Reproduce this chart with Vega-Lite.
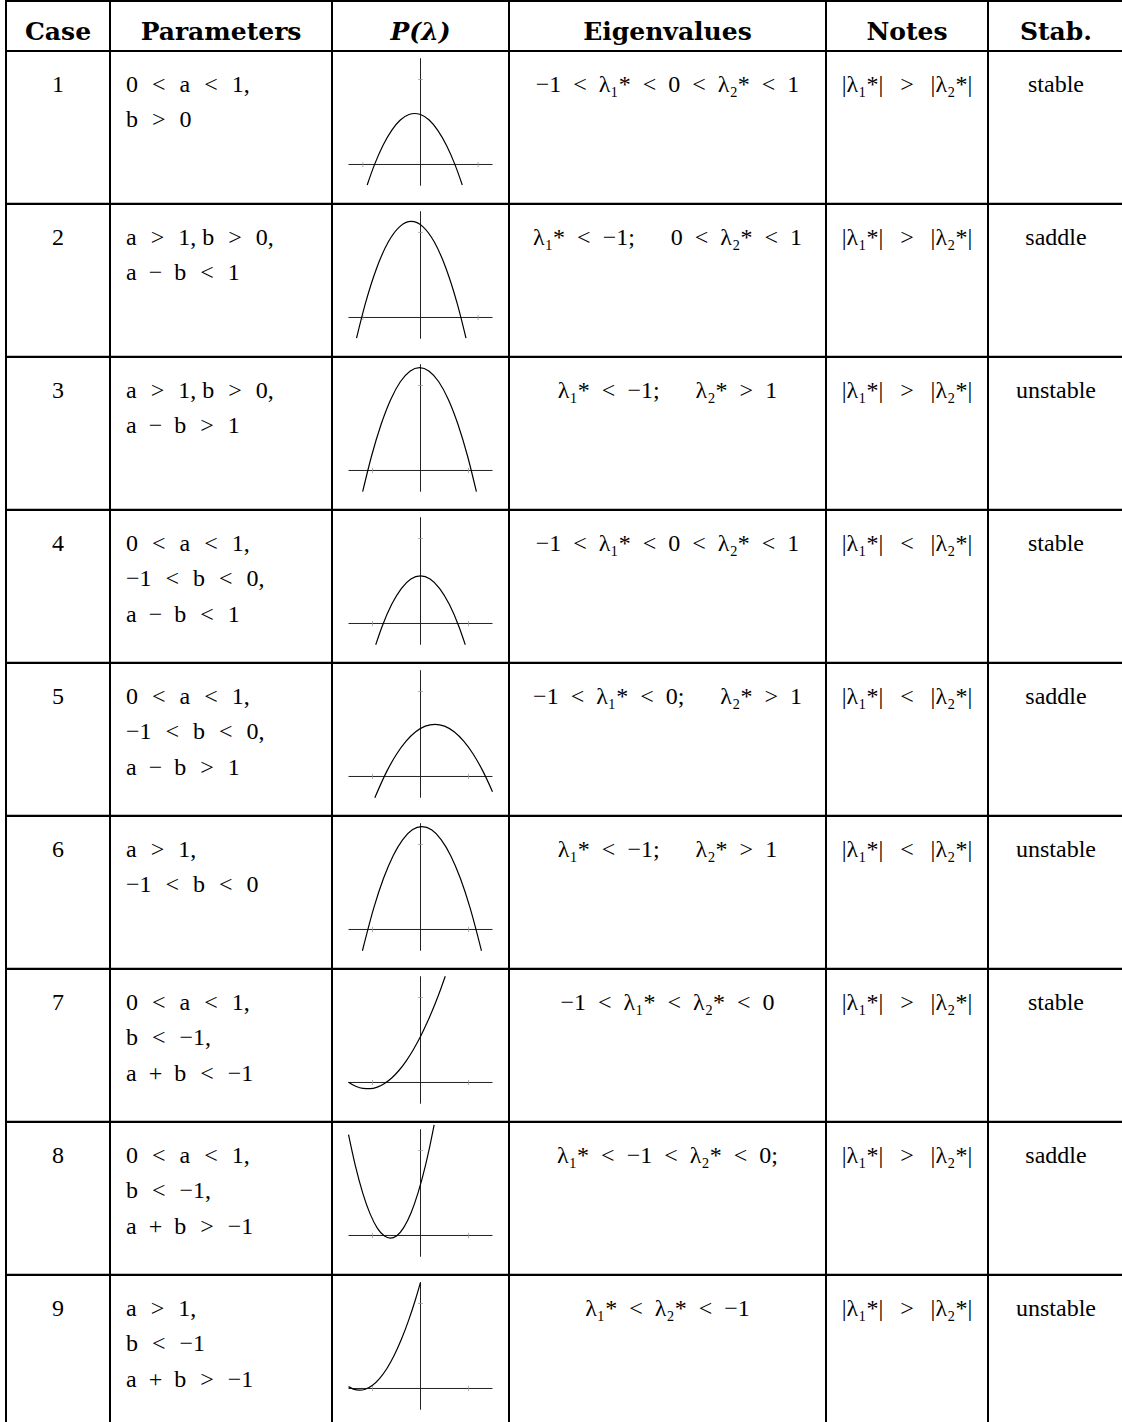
{
  "$schema": "https://vega.github.io/schema/vega-lite/v6.json",
  "background": "white",
  "padding": {"left": 5, "top": 0, "right": 0, "bottom": 0},
  "bounds": "flush",
  "spacing": 0,
  "columns": 6,
  "align": "each",
  "config": {
    "view": {"stroke": "black", "strokeWidth": 2},
    "concat": {"spacing": 0},
    "axis": {"grid": false},
    "text": {"font": "Liberation Serif", "fontSize": 24, "baseline": "alphabetic", "color": "black"}
  },
  "datasets": {
    "cells": [
      {"case": 1, "col": "case", "line": 1, "text": "1"},
      {"case": 2, "col": "case", "line": 1, "text": "2"},
      {"case": 3, "col": "case", "line": 1, "text": "3"},
      {"case": 4, "col": "case", "line": 1, "text": "4"},
      {"case": 5, "col": "case", "line": 1, "text": "5"},
      {"case": 6, "col": "case", "line": 1, "text": "6"},
      {"case": 7, "col": "case", "line": 1, "text": "7"},
      {"case": 8, "col": "case", "line": 1, "text": "8"},
      {"case": 9, "col": "case", "line": 1, "text": "9"},
      {"case": 1, "col": "par", "line": 1, "text": "0\u2004\u2005<\u2004\u2005a\u2004\u2005<\u2004\u20051,"},
      {"case": 1, "col": "par", "line": 2, "text": "b\u2004\u2005>\u2004\u20050"},
      {"case": 2, "col": "par", "line": 1, "text": "a\u2004\u2005>\u2004\u20051, b\u2004\u2005>\u2004\u20050,"},
      {"case": 2, "col": "par", "line": 2, "text": "a\u2002−\u2002b\u2004\u2005<\u2004\u20051"},
      {"case": 3, "col": "par", "line": 1, "text": "a\u2004\u2005>\u2004\u20051, b\u2004\u2005>\u2004\u20050,"},
      {"case": 3, "col": "par", "line": 2, "text": "a\u2002−\u2002b\u2004\u2005>\u2004\u20051"},
      {"case": 4, "col": "par", "line": 1, "text": "0\u2004\u2005<\u2004\u2005a\u2004\u2005<\u2004\u20051,"},
      {"case": 4, "col": "par", "line": 2, "text": "−1\u2004\u2005<\u2004\u2005b\u2004\u2005<\u2004\u20050,"},
      {"case": 4, "col": "par", "line": 3, "text": "a\u2002−\u2002b\u2004\u2005<\u2004\u20051"},
      {"case": 5, "col": "par", "line": 1, "text": "0\u2004\u2005<\u2004\u2005a\u2004\u2005<\u2004\u20051,"},
      {"case": 5, "col": "par", "line": 2, "text": "−1\u2004\u2005<\u2004\u2005b\u2004\u2005<\u2004\u20050,"},
      {"case": 5, "col": "par", "line": 3, "text": "a\u2002−\u2002b\u2004\u2005>\u2004\u20051"},
      {"case": 6, "col": "par", "line": 1, "text": "a\u2004\u2005>\u2004\u20051,"},
      {"case": 6, "col": "par", "line": 2, "text": "−1\u2004\u2005<\u2004\u2005b\u2004\u2005<\u2004\u20050"},
      {"case": 7, "col": "par", "line": 1, "text": "0\u2004\u2005<\u2004\u2005a\u2004\u2005<\u2004\u20051,"},
      {"case": 7, "col": "par", "line": 2, "text": "b\u2004\u2005<\u2004\u2005−1,"},
      {"case": 7, "col": "par", "line": 3, "text": "a\u2002+\u2002b\u2004\u2005<\u2004\u2005−1"},
      {"case": 8, "col": "par", "line": 1, "text": "0\u2004\u2005<\u2004\u2005a\u2004\u2005<\u2004\u20051,"},
      {"case": 8, "col": "par", "line": 2, "text": "b\u2004\u2005<\u2004\u2005−1,"},
      {"case": 8, "col": "par", "line": 3, "text": "a\u2002+\u2002b\u2004\u2005>\u2004\u2005−1"},
      {"case": 9, "col": "par", "line": 1, "text": "a\u2004\u2005>\u2004\u20051,"},
      {"case": 9, "col": "par", "line": 2, "text": "b\u2004\u2005<\u2004\u2005−1"},
      {"case": 9, "col": "par", "line": 3, "text": "a\u2002+\u2002b\u2004\u2005>\u2004\u2005−1"},
      {"case": 1, "col": "eig", "line": 1, "text": "−1\u2002<\u2002λ₁*\u2002<\u20020\u2002<\u2002λ₂*\u2002<\u20021"},
      {"case": 2, "col": "eig", "line": 1, "text": "λ₁*\u2002<\u2002−1;\u2003\u20020\u2002<\u2002λ₂*\u2002<\u20021"},
      {"case": 3, "col": "eig", "line": 1, "text": "λ₁*\u2002<\u2002−1;\u2003\u2002λ₂*\u2002>\u20021"},
      {"case": 4, "col": "eig", "line": 1, "text": "−1\u2002<\u2002λ₁*\u2002<\u20020\u2002<\u2002λ₂*\u2002<\u20021"},
      {"case": 5, "col": "eig", "line": 1, "text": "−1\u2002<\u2002λ₁*\u2002<\u20020;\u2003\u2002λ₂*\u2002>\u20021"},
      {"case": 6, "col": "eig", "line": 1, "text": "λ₁*\u2002<\u2002−1;\u2003\u2002λ₂*\u2002>\u20021"},
      {"case": 7, "col": "eig", "line": 1, "text": "−1\u2002<\u2002λ₁*\u2002<\u2002λ₂*\u2002<\u20020"},
      {"case": 8, "col": "eig", "line": 1, "text": "λ₁*\u2002<\u2002−1\u2002<\u2002λ₂*\u2002<\u20020;"},
      {"case": 9, "col": "eig", "line": 1, "text": "λ₁*\u2002<\u2002λ₂*\u2002<\u2002−1"},
      {"case": 1, "col": "note", "line": 1, "text": "|λ₁*|\u2002\u2009>\u2002\u2009|λ₂*|"},
      {"case": 2, "col": "note", "line": 1, "text": "|λ₁*|\u2002\u2009>\u2002\u2009|λ₂*|"},
      {"case": 3, "col": "note", "line": 1, "text": "|λ₁*|\u2002\u2009>\u2002\u2009|λ₂*|"},
      {"case": 4, "col": "note", "line": 1, "text": "|λ₁*|\u2002\u2009<\u2002\u2009|λ₂*|"},
      {"case": 5, "col": "note", "line": 1, "text": "|λ₁*|\u2002\u2009<\u2002\u2009|λ₂*|"},
      {"case": 6, "col": "note", "line": 1, "text": "|λ₁*|\u2002\u2009<\u2002\u2009|λ₂*|"},
      {"case": 7, "col": "note", "line": 1, "text": "|λ₁*|\u2002\u2009>\u2002\u2009|λ₂*|"},
      {"case": 8, "col": "note", "line": 1, "text": "|λ₁*|\u2002\u2009>\u2002\u2009|λ₂*|"},
      {"case": 9, "col": "note", "line": 1, "text": "|λ₁*|\u2002\u2009>\u2002\u2009|λ₂*|"},
      {"case": 1, "col": "stab", "line": 1, "text": "stable"},
      {"case": 2, "col": "stab", "line": 1, "text": "saddle"},
      {"case": 3, "col": "stab", "line": 1, "text": "unstable"},
      {"case": 4, "col": "stab", "line": 1, "text": "stable"},
      {"case": 5, "col": "stab", "line": 1, "text": "saddle"},
      {"case": 6, "col": "stab", "line": 1, "text": "unstable"},
      {"case": 7, "col": "stab", "line": 1, "text": "stable"},
      {"case": 8, "col": "stab", "line": 1, "text": "saddle"},
      {"case": 9, "col": "stab", "line": 1, "text": "unstable"}
    ],
    "heads": [
      {"col": "case", "line": 1, "h": "Case"},
      {"col": "par", "line": 1, "h": "Parameters"},
      {"col": "p", "line": 1, "h": "P(λ)"},
      {"col": "eig", "line": 1, "h": "Eigenvalues"},
      {"col": "note", "line": 1, "h": "Notes"},
      {"col": "stab", "line": 1, "h": "Stab."}
    ],
    "ticks": [{"t": -1}, {"t": 1}],
    "curves": [
      {"case": 1, "lam": -0.925, "p": -0.241}, {"case": 1, "lam": -0.8, "p": -0.005}, {"case": 1, "lam": -0.65, "p": 0.226}, {"case": 1, "lam": -0.5, "p": 0.402}, {"case": 1, "lam": -0.35, "p": 0.523}, {"case": 1, "lam": -0.2, "p": 0.588}, {"case": 1, "lam": -0.1, "p": 0.6}, {"case": 1, "lam": 0, "p": 0.588}, {"case": 1, "lam": 0.15, "p": 0.523}, {"case": 1, "lam": 0.3, "p": 0.402}, {"case": 1, "lam": 0.45, "p": 0.226}, {"case": 1, "lam": 0.6, "p": -0.005}, {"case": 1, "lam": 0.725, "p": -0.241},
      {"case": 2, "lam": -1.11, "p": -0.242}, {"case": 2, "lam": -0.96, "p": 0.157}, {"case": 2, "lam": -0.76, "p": 0.583}, {"case": 2, "lam": -0.56, "p": 0.887}, {"case": 2, "lam": -0.36, "p": 1.069}, {"case": 2, "lam": -0.16, "p": 1.13}, {"case": 2, "lam": 0.04, "p": 1.069}, {"case": 2, "lam": 0.24, "p": 0.887}, {"case": 2, "lam": 0.44, "p": 0.583}, {"case": 2, "lam": 0.64, "p": 0.157}, {"case": 2, "lam": 0.79, "p": -0.242},
      {"case": 3, "lam": -1.205, "p": -0.25}, {"case": 3, "lam": -1.02, "p": 0.17}, {"case": 3, "lam": -0.82, "p": 0.544}, {"case": 3, "lam": -0.62, "p": 0.836}, {"case": 3, "lam": -0.42, "p": 1.044}, {"case": 3, "lam": -0.22, "p": 1.168}, {"case": 3, "lam": -0.02, "p": 1.21}, {"case": 3, "lam": 0.18, "p": 1.168}, {"case": 3, "lam": 0.38, "p": 1.044}, {"case": 3, "lam": 0.58, "p": 0.836}, {"case": 3, "lam": 0.78, "p": 0.544}, {"case": 3, "lam": 0.98, "p": 0.17}, {"case": 3, "lam": 1.165, "p": -0.25},
      {"case": 4, "lam": -0.933, "p": -0.25}, {"case": 4, "lam": -0.8, "p": -0.035}, {"case": 4, "lam": -0.6, "p": 0.225}, {"case": 4, "lam": -0.4, "p": 0.411}, {"case": 4, "lam": -0.2, "p": 0.523}, {"case": 4, "lam": 0, "p": 0.56}, {"case": 4, "lam": 0.2, "p": 0.523}, {"case": 4, "lam": 0.4, "p": 0.411}, {"case": 4, "lam": 0.6, "p": 0.225}, {"case": 4, "lam": 0.8, "p": -0.035}, {"case": 4, "lam": 0.933, "p": -0.25},
      {"case": 5, "lam": -0.952, "p": -0.25}, {"case": 5, "lam": -0.7, "p": 0.063}, {"case": 5, "lam": -0.5, "p": 0.261}, {"case": 5, "lam": -0.3, "p": 0.416}, {"case": 5, "lam": -0.1, "p": 0.526}, {"case": 5, "lam": 0.1, "p": 0.592}, {"case": 5, "lam": 0.3, "p": 0.614}, {"case": 5, "lam": 0.5, "p": 0.592}, {"case": 5, "lam": 0.7, "p": 0.526}, {"case": 5, "lam": 0.9, "p": 0.416}, {"case": 5, "lam": 1.1, "p": 0.261}, {"case": 5, "lam": 1.3, "p": 0.063}, {"case": 5, "lam": 1.5, "p": -0.179},
      {"case": 6, "lam": -1.21, "p": -0.25}, {"case": 6, "lam": -0.97, "p": 0.26}, {"case": 6, "lam": -0.77, "p": 0.602}, {"case": 6, "lam": -0.57, "p": 0.868}, {"case": 6, "lam": -0.37, "p": 1.058}, {"case": 6, "lam": -0.17, "p": 1.172}, {"case": 6, "lam": 0.03, "p": 1.21}, {"case": 6, "lam": 0.23, "p": 1.172}, {"case": 6, "lam": 0.43, "p": 1.058}, {"case": 6, "lam": 0.63, "p": 0.868}, {"case": 6, "lam": 0.83, "p": 0.602}, {"case": 6, "lam": 1.03, "p": 0.26}, {"case": 6, "lam": 1.27, "p": -0.25},
      {"case": 7, "lam": -1.5, "p": 0.004}, {"case": 7, "lam": -1.35, "p": -0.045}, {"case": 7, "lam": -1.2, "p": -0.07}, {"case": 7, "lam": -1.05, "p": -0.073}, {"case": 7, "lam": -0.9, "p": -0.054}, {"case": 7, "lam": -0.75, "p": -0.011}, {"case": 7, "lam": -0.6, "p": 0.053}, {"case": 7, "lam": -0.45, "p": 0.141}, {"case": 7, "lam": -0.3, "p": 0.252}, {"case": 7, "lam": -0.15, "p": 0.385}, {"case": 7, "lam": 0, "p": 0.54}, {"case": 7, "lam": 0.15, "p": 0.719}, {"case": 7, "lam": 0.3, "p": 0.92}, {"case": 7, "lam": 0.42, "p": 1.097}, {"case": 7, "lam": 0.516, "p": 1.249},
      {"case": 8, "lam": -1.5, "p": 1.186}, {"case": 8, "lam": -1.35, "p": 0.803}, {"case": 8, "lam": -1.2, "p": 0.493}, {"case": 8, "lam": -1.05, "p": 0.254}, {"case": 8, "lam": -0.9, "p": 0.087}, {"case": 8, "lam": -0.75, "p": -0.007}, {"case": 8, "lam": -0.63, "p": -0.031}, {"case": 8, "lam": -0.5, "p": -0.005}, {"case": 8, "lam": -0.35, "p": 0.093}, {"case": 8, "lam": -0.2, "p": 0.262}, {"case": 8, "lam": -0.05, "p": 0.504}, {"case": 8, "lam": 0.1, "p": 0.817}, {"case": 8, "lam": 0.2, "p": 1.066}, {"case": 8, "lam": 0.284, "p": 1.3},
      {"case": 9, "lam": -1.5, "p": 0.022}, {"case": 9, "lam": -1.4, "p": -0.007}, {"case": 9, "lam": -1.27, "p": -0.02}, {"case": 9, "lam": -1.15, "p": -0.009}, {"case": 9, "lam": -1.0, "p": 0.037}, {"case": 9, "lam": -0.85, "p": 0.119}, {"case": 9, "lam": -0.7, "p": 0.235}, {"case": 9, "lam": -0.55, "p": 0.387}, {"case": 9, "lam": -0.4, "p": 0.575}, {"case": 9, "lam": -0.25, "p": 0.798}, {"case": 9, "lam": -0.1, "p": 1.056}, {"case": 9, "lam": 0, "p": 1.248}
    ]
  },
  "concat": [
    {"width": 104, "height": 50, "data": {"name": "heads"}, "transform": [{"filter": "datum.col === 'case'"}], "mark": {"type": "text", "font": "DejaVu Serif", "fontWeight": "bold", "fontSize": 25}, "encoding": {"text": {"field": "h"}, "y": {"field": "line", "type": "quantitative", "scale": {"domain": [0, 1.272], "reverse": true, "nice": false, "zero": false}, "axis": null}}},
    {"width": 222, "height": 50, "data": {"name": "heads"}, "transform": [{"filter": "datum.col === 'par'"}], "mark": {"type": "text", "font": "DejaVu Serif", "fontWeight": "bold", "fontSize": 25}, "encoding": {"text": {"field": "h"}, "y": {"field": "line", "type": "quantitative", "scale": {"domain": [0, 1.272], "reverse": true, "nice": false, "zero": false}, "axis": null}}},
    {"width": 177, "height": 50, "data": {"name": "heads"}, "transform": [{"filter": "datum.col === 'p'"}], "mark": {"type": "text", "font": "DejaVu Serif", "fontWeight": "bold", "fontStyle": "italic", "fontSize": 25}, "encoding": {"text": {"field": "h"}, "y": {"field": "line", "type": "quantitative", "scale": {"domain": [0, 1.272], "reverse": true, "nice": false, "zero": false}, "axis": null}}},
    {"width": 317, "height": 50, "data": {"name": "heads"}, "transform": [{"filter": "datum.col === 'eig'"}], "mark": {"type": "text", "font": "DejaVu Serif", "fontWeight": "bold", "fontSize": 25}, "encoding": {"text": {"field": "h"}, "y": {"field": "line", "type": "quantitative", "scale": {"domain": [0, 1.272], "reverse": true, "nice": false, "zero": false}, "axis": null}}},
    {"width": 162, "height": 50, "data": {"name": "heads"}, "transform": [{"filter": "datum.col === 'note'"}], "mark": {"type": "text", "font": "DejaVu Serif", "fontWeight": "bold", "fontSize": 25}, "encoding": {"text": {"field": "h"}, "y": {"field": "line", "type": "quantitative", "scale": {"domain": [0, 1.272], "reverse": true, "nice": false, "zero": false}, "axis": null}}},
    {"width": 136, "height": 50, "data": {"name": "heads"}, "transform": [{"filter": "datum.col === 'stab'"}], "mark": {"type": "text", "font": "DejaVu Serif", "fontWeight": "bold", "fontSize": 25}, "encoding": {"text": {"field": "h"}, "y": {"field": "line", "type": "quantitative", "scale": {"domain": [0, 1.272], "reverse": true, "nice": false, "zero": false}, "axis": null}}},

    {"width": 104, "height": 152.75, "data": {"name": "cells"}, "transform": [{"filter": "datum.case === 1 && datum.col === 'case'"}], "mark": "text", "encoding": {"text": {"field": "text"}, "y": {"field": "line", "type": "quantitative", "scale": {"domain": [-0.1465, 4.156], "reverse": true, "nice": false, "zero": false}, "axis": null}}},
    {"width": 222, "height": 152.75, "data": {"name": "cells"}, "transform": [{"filter": "datum.case === 1 && datum.col === 'par'"}], "mark": {"type": "text", "align": "left", "dx": 16}, "encoding": {"text": {"field": "text"}, "x": {"datum": 0, "type": "quantitative", "scale": {"domain": [0, 1], "nice": false, "zero": false}, "axis": null}, "y": {"field": "line", "type": "quantitative", "scale": {"domain": [-0.1465, 4.156], "reverse": true, "nice": false, "zero": false}, "axis": null}}},
    {"width": 177, "height": 152.75, "layer": [
      {"data": {"values": [{}]}, "mark": {"type": "rule", "color": "#222", "strokeWidth": 1}, "encoding": {"x": {"datum": -1.25, "type": "quantitative", "scale": {"domain": [-1.536, 1.536], "nice": false, "zero": false}, "axis": null}, "x2": {"datum": 1.25}, "y": {"datum": 0, "type": "quantitative", "scale": {"domain": [-0.462, 1.335], "nice": false, "zero": false}, "axis": null}}},
      {"data": {"values": [{}]}, "mark": {"type": "rule", "color": "#222", "strokeWidth": 1}, "encoding": {"x": {"datum": 0, "type": "quantitative"}, "y": {"datum": -0.25, "type": "quantitative"}, "y2": {"datum": 1.25}}},
      {"data": {"name": "ticks"}, "mark": {"type": "rule", "color": "#999", "strokeWidth": 0.8}, "encoding": {"x": {"field": "t", "type": "quantitative"}, "y": {"datum": -0.03, "type": "quantitative"}, "y2": {"datum": 0.03}}},
      {"data": {"values": [{}]}, "mark": {"type": "rule", "color": "#999", "strokeWidth": 0.8}, "encoding": {"x": {"datum": -0.04, "type": "quantitative"}, "x2": {"datum": 0.04}, "y": {"datum": 1, "type": "quantitative"}}},
      {"data": {"name": "curves"}, "transform": [{"filter": "datum.case === 1"}], "mark": {"type": "line", "color": "black", "strokeWidth": 1.2, "interpolate": "monotone", "clip": true}, "encoding": {"x": {"field": "lam", "type": "quantitative"}, "y": {"field": "p", "type": "quantitative"}}}
    ]},
    {"width": 317, "height": 152.75, "data": {"name": "cells"}, "transform": [{"filter": "datum.case === 1 && datum.col === 'eig'"}], "mark": "text", "encoding": {"text": {"field": "text"}, "y": {"field": "line", "type": "quantitative", "scale": {"domain": [-0.1465, 4.156], "reverse": true, "nice": false, "zero": false}, "axis": null}}},
    {"width": 162, "height": 152.75, "data": {"name": "cells"}, "transform": [{"filter": "datum.case === 1 && datum.col === 'note'"}], "mark": "text", "encoding": {"text": {"field": "text"}, "y": {"field": "line", "type": "quantitative", "scale": {"domain": [-0.1465, 4.156], "reverse": true, "nice": false, "zero": false}, "axis": null}}},
    {"width": 136, "height": 152.75, "data": {"name": "cells"}, "transform": [{"filter": "datum.case === 1 && datum.col === 'stab'"}], "mark": "text", "encoding": {"text": {"field": "text"}, "y": {"field": "line", "type": "quantitative", "scale": {"domain": [-0.1465, 4.156], "reverse": true, "nice": false, "zero": false}, "axis": null}}},

    {"width": 104, "height": 152.75, "data": {"name": "cells"}, "transform": [{"filter": "datum.case === 2 && datum.col === 'case'"}], "mark": "text", "encoding": {"text": {"field": "text"}, "y": {"field": "line", "type": "quantitative", "scale": {"domain": [-0.1465, 4.156], "reverse": true, "nice": false, "zero": false}, "axis": null}}},
    {"width": 222, "height": 152.75, "data": {"name": "cells"}, "transform": [{"filter": "datum.case === 2 && datum.col === 'par'"}], "mark": {"type": "text", "align": "left", "dx": 16}, "encoding": {"text": {"field": "text"}, "x": {"datum": 0, "type": "quantitative", "scale": {"domain": [0, 1], "nice": false, "zero": false}, "axis": null}, "y": {"field": "line", "type": "quantitative", "scale": {"domain": [-0.1465, 4.156], "reverse": true, "nice": false, "zero": false}, "axis": null}}},
    {"width": 177, "height": 152.75, "layer": [
      {"data": {"values": [{}]}, "mark": {"type": "rule", "color": "#222", "strokeWidth": 1}, "encoding": {"x": {"datum": -1.25, "type": "quantitative", "scale": {"domain": [-1.536, 1.536], "nice": false, "zero": false}, "axis": null}, "x2": {"datum": 1.25}, "y": {"datum": 0, "type": "quantitative", "scale": {"domain": [-0.462, 1.335], "nice": false, "zero": false}, "axis": null}}},
      {"data": {"values": [{}]}, "mark": {"type": "rule", "color": "#222", "strokeWidth": 1}, "encoding": {"x": {"datum": 0, "type": "quantitative"}, "y": {"datum": -0.25, "type": "quantitative"}, "y2": {"datum": 1.25}}},
      {"data": {"name": "ticks"}, "mark": {"type": "rule", "color": "#999", "strokeWidth": 0.8}, "encoding": {"x": {"field": "t", "type": "quantitative"}, "y": {"datum": -0.03, "type": "quantitative"}, "y2": {"datum": 0.03}}},
      {"data": {"values": [{}]}, "mark": {"type": "rule", "color": "#999", "strokeWidth": 0.8}, "encoding": {"x": {"datum": -0.04, "type": "quantitative"}, "x2": {"datum": 0.04}, "y": {"datum": 1, "type": "quantitative"}}},
      {"data": {"name": "curves"}, "transform": [{"filter": "datum.case === 2"}], "mark": {"type": "line", "color": "black", "strokeWidth": 1.2, "interpolate": "monotone", "clip": true}, "encoding": {"x": {"field": "lam", "type": "quantitative"}, "y": {"field": "p", "type": "quantitative"}}}
    ]},
    {"width": 317, "height": 152.75, "data": {"name": "cells"}, "transform": [{"filter": "datum.case === 2 && datum.col === 'eig'"}], "mark": "text", "encoding": {"text": {"field": "text"}, "y": {"field": "line", "type": "quantitative", "scale": {"domain": [-0.1465, 4.156], "reverse": true, "nice": false, "zero": false}, "axis": null}}},
    {"width": 162, "height": 152.75, "data": {"name": "cells"}, "transform": [{"filter": "datum.case === 2 && datum.col === 'note'"}], "mark": "text", "encoding": {"text": {"field": "text"}, "y": {"field": "line", "type": "quantitative", "scale": {"domain": [-0.1465, 4.156], "reverse": true, "nice": false, "zero": false}, "axis": null}}},
    {"width": 136, "height": 152.75, "data": {"name": "cells"}, "transform": [{"filter": "datum.case === 2 && datum.col === 'stab'"}], "mark": "text", "encoding": {"text": {"field": "text"}, "y": {"field": "line", "type": "quantitative", "scale": {"domain": [-0.1465, 4.156], "reverse": true, "nice": false, "zero": false}, "axis": null}}},

    {"width": 104, "height": 152.75, "data": {"name": "cells"}, "transform": [{"filter": "datum.case === 3 && datum.col === 'case'"}], "mark": "text", "encoding": {"text": {"field": "text"}, "y": {"field": "line", "type": "quantitative", "scale": {"domain": [-0.1465, 4.156], "reverse": true, "nice": false, "zero": false}, "axis": null}}},
    {"width": 222, "height": 152.75, "data": {"name": "cells"}, "transform": [{"filter": "datum.case === 3 && datum.col === 'par'"}], "mark": {"type": "text", "align": "left", "dx": 16}, "encoding": {"text": {"field": "text"}, "x": {"datum": 0, "type": "quantitative", "scale": {"domain": [0, 1], "nice": false, "zero": false}, "axis": null}, "y": {"field": "line", "type": "quantitative", "scale": {"domain": [-0.1465, 4.156], "reverse": true, "nice": false, "zero": false}, "axis": null}}},
    {"width": 177, "height": 152.75, "layer": [
      {"data": {"values": [{}]}, "mark": {"type": "rule", "color": "#222", "strokeWidth": 1}, "encoding": {"x": {"datum": -1.5, "type": "quantitative", "scale": {"domain": [-1.844, 1.844], "nice": false, "zero": false}, "axis": null}, "x2": {"datum": 1.5}, "y": {"datum": 0, "type": "quantitative", "scale": {"domain": [-0.462, 1.335], "nice": false, "zero": false}, "axis": null}}},
      {"data": {"values": [{}]}, "mark": {"type": "rule", "color": "#222", "strokeWidth": 1}, "encoding": {"x": {"datum": 0, "type": "quantitative"}, "y": {"datum": -0.25, "type": "quantitative"}, "y2": {"datum": 1.25}}},
      {"data": {"name": "ticks"}, "mark": {"type": "rule", "color": "#999", "strokeWidth": 0.8}, "encoding": {"x": {"field": "t", "type": "quantitative"}, "y": {"datum": -0.03, "type": "quantitative"}, "y2": {"datum": 0.03}}},
      {"data": {"values": [{}]}, "mark": {"type": "rule", "color": "#999", "strokeWidth": 0.8}, "encoding": {"x": {"datum": -0.05, "type": "quantitative"}, "x2": {"datum": 0.05}, "y": {"datum": 1, "type": "quantitative"}}},
      {"data": {"name": "curves"}, "transform": [{"filter": "datum.case === 3"}], "mark": {"type": "line", "color": "black", "strokeWidth": 1.2, "interpolate": "monotone", "clip": true}, "encoding": {"x": {"field": "lam", "type": "quantitative"}, "y": {"field": "p", "type": "quantitative"}}}
    ]},
    {"width": 317, "height": 152.75, "data": {"name": "cells"}, "transform": [{"filter": "datum.case === 3 && datum.col === 'eig'"}], "mark": "text", "encoding": {"text": {"field": "text"}, "y": {"field": "line", "type": "quantitative", "scale": {"domain": [-0.1465, 4.156], "reverse": true, "nice": false, "zero": false}, "axis": null}}},
    {"width": 162, "height": 152.75, "data": {"name": "cells"}, "transform": [{"filter": "datum.case === 3 && datum.col === 'note'"}], "mark": "text", "encoding": {"text": {"field": "text"}, "y": {"field": "line", "type": "quantitative", "scale": {"domain": [-0.1465, 4.156], "reverse": true, "nice": false, "zero": false}, "axis": null}}},
    {"width": 136, "height": 152.75, "data": {"name": "cells"}, "transform": [{"filter": "datum.case === 3 && datum.col === 'stab'"}], "mark": "text", "encoding": {"text": {"field": "text"}, "y": {"field": "line", "type": "quantitative", "scale": {"domain": [-0.1465, 4.156], "reverse": true, "nice": false, "zero": false}, "axis": null}}},

    {"width": 104, "height": 152.75, "data": {"name": "cells"}, "transform": [{"filter": "datum.case === 4 && datum.col === 'case'"}], "mark": "text", "encoding": {"text": {"field": "text"}, "y": {"field": "line", "type": "quantitative", "scale": {"domain": [-0.1465, 4.156], "reverse": true, "nice": false, "zero": false}, "axis": null}}},
    {"width": 222, "height": 152.75, "data": {"name": "cells"}, "transform": [{"filter": "datum.case === 4 && datum.col === 'par'"}], "mark": {"type": "text", "align": "left", "dx": 16}, "encoding": {"text": {"field": "text"}, "x": {"datum": 0, "type": "quantitative", "scale": {"domain": [0, 1], "nice": false, "zero": false}, "axis": null}, "y": {"field": "line", "type": "quantitative", "scale": {"domain": [-0.1465, 4.156], "reverse": true, "nice": false, "zero": false}, "axis": null}}},
    {"width": 177, "height": 152.75, "layer": [
      {"data": {"values": [{}]}, "mark": {"type": "rule", "color": "#222", "strokeWidth": 1}, "encoding": {"x": {"datum": -1.5, "type": "quantitative", "scale": {"domain": [-1.844, 1.844], "nice": false, "zero": false}, "axis": null}, "x2": {"datum": 1.5}, "y": {"datum": 0, "type": "quantitative", "scale": {"domain": [-0.462, 1.335], "nice": false, "zero": false}, "axis": null}}},
      {"data": {"values": [{}]}, "mark": {"type": "rule", "color": "#222", "strokeWidth": 1}, "encoding": {"x": {"datum": 0, "type": "quantitative"}, "y": {"datum": -0.25, "type": "quantitative"}, "y2": {"datum": 1.25}}},
      {"data": {"name": "ticks"}, "mark": {"type": "rule", "color": "#999", "strokeWidth": 0.8}, "encoding": {"x": {"field": "t", "type": "quantitative"}, "y": {"datum": -0.03, "type": "quantitative"}, "y2": {"datum": 0.03}}},
      {"data": {"values": [{}]}, "mark": {"type": "rule", "color": "#999", "strokeWidth": 0.8}, "encoding": {"x": {"datum": -0.05, "type": "quantitative"}, "x2": {"datum": 0.05}, "y": {"datum": 1, "type": "quantitative"}}},
      {"data": {"name": "curves"}, "transform": [{"filter": "datum.case === 4"}], "mark": {"type": "line", "color": "black", "strokeWidth": 1.2, "interpolate": "monotone", "clip": true}, "encoding": {"x": {"field": "lam", "type": "quantitative"}, "y": {"field": "p", "type": "quantitative"}}}
    ]},
    {"width": 317, "height": 152.75, "data": {"name": "cells"}, "transform": [{"filter": "datum.case === 4 && datum.col === 'eig'"}], "mark": "text", "encoding": {"text": {"field": "text"}, "y": {"field": "line", "type": "quantitative", "scale": {"domain": [-0.1465, 4.156], "reverse": true, "nice": false, "zero": false}, "axis": null}}},
    {"width": 162, "height": 152.75, "data": {"name": "cells"}, "transform": [{"filter": "datum.case === 4 && datum.col === 'note'"}], "mark": "text", "encoding": {"text": {"field": "text"}, "y": {"field": "line", "type": "quantitative", "scale": {"domain": [-0.1465, 4.156], "reverse": true, "nice": false, "zero": false}, "axis": null}}},
    {"width": 136, "height": 152.75, "data": {"name": "cells"}, "transform": [{"filter": "datum.case === 4 && datum.col === 'stab'"}], "mark": "text", "encoding": {"text": {"field": "text"}, "y": {"field": "line", "type": "quantitative", "scale": {"domain": [-0.1465, 4.156], "reverse": true, "nice": false, "zero": false}, "axis": null}}},

    {"width": 104, "height": 152.75, "data": {"name": "cells"}, "transform": [{"filter": "datum.case === 5 && datum.col === 'case'"}], "mark": "text", "encoding": {"text": {"field": "text"}, "y": {"field": "line", "type": "quantitative", "scale": {"domain": [-0.1465, 4.156], "reverse": true, "nice": false, "zero": false}, "axis": null}}},
    {"width": 222, "height": 152.75, "data": {"name": "cells"}, "transform": [{"filter": "datum.case === 5 && datum.col === 'par'"}], "mark": {"type": "text", "align": "left", "dx": 16}, "encoding": {"text": {"field": "text"}, "x": {"datum": 0, "type": "quantitative", "scale": {"domain": [0, 1], "nice": false, "zero": false}, "axis": null}, "y": {"field": "line", "type": "quantitative", "scale": {"domain": [-0.1465, 4.156], "reverse": true, "nice": false, "zero": false}, "axis": null}}},
    {"width": 177, "height": 152.75, "layer": [
      {"data": {"values": [{}]}, "mark": {"type": "rule", "color": "#222", "strokeWidth": 1}, "encoding": {"x": {"datum": -1.5, "type": "quantitative", "scale": {"domain": [-1.844, 1.844], "nice": false, "zero": false}, "axis": null}, "x2": {"datum": 1.5}, "y": {"datum": 0, "type": "quantitative", "scale": {"domain": [-0.462, 1.335], "nice": false, "zero": false}, "axis": null}}},
      {"data": {"values": [{}]}, "mark": {"type": "rule", "color": "#222", "strokeWidth": 1}, "encoding": {"x": {"datum": 0, "type": "quantitative"}, "y": {"datum": -0.25, "type": "quantitative"}, "y2": {"datum": 1.25}}},
      {"data": {"name": "ticks"}, "mark": {"type": "rule", "color": "#999", "strokeWidth": 0.8}, "encoding": {"x": {"field": "t", "type": "quantitative"}, "y": {"datum": -0.03, "type": "quantitative"}, "y2": {"datum": 0.03}}},
      {"data": {"values": [{}]}, "mark": {"type": "rule", "color": "#999", "strokeWidth": 0.8}, "encoding": {"x": {"datum": -0.05, "type": "quantitative"}, "x2": {"datum": 0.05}, "y": {"datum": 1, "type": "quantitative"}}},
      {"data": {"name": "curves"}, "transform": [{"filter": "datum.case === 5"}], "mark": {"type": "line", "color": "black", "strokeWidth": 1.2, "interpolate": "monotone", "clip": true}, "encoding": {"x": {"field": "lam", "type": "quantitative"}, "y": {"field": "p", "type": "quantitative"}}}
    ]},
    {"width": 317, "height": 152.75, "data": {"name": "cells"}, "transform": [{"filter": "datum.case === 5 && datum.col === 'eig'"}], "mark": "text", "encoding": {"text": {"field": "text"}, "y": {"field": "line", "type": "quantitative", "scale": {"domain": [-0.1465, 4.156], "reverse": true, "nice": false, "zero": false}, "axis": null}}},
    {"width": 162, "height": 152.75, "data": {"name": "cells"}, "transform": [{"filter": "datum.case === 5 && datum.col === 'note'"}], "mark": "text", "encoding": {"text": {"field": "text"}, "y": {"field": "line", "type": "quantitative", "scale": {"domain": [-0.1465, 4.156], "reverse": true, "nice": false, "zero": false}, "axis": null}}},
    {"width": 136, "height": 152.75, "data": {"name": "cells"}, "transform": [{"filter": "datum.case === 5 && datum.col === 'stab'"}], "mark": "text", "encoding": {"text": {"field": "text"}, "y": {"field": "line", "type": "quantitative", "scale": {"domain": [-0.1465, 4.156], "reverse": true, "nice": false, "zero": false}, "axis": null}}},

    {"width": 104, "height": 152.75, "data": {"name": "cells"}, "transform": [{"filter": "datum.case === 6 && datum.col === 'case'"}], "mark": "text", "encoding": {"text": {"field": "text"}, "y": {"field": "line", "type": "quantitative", "scale": {"domain": [-0.1465, 4.156], "reverse": true, "nice": false, "zero": false}, "axis": null}}},
    {"width": 222, "height": 152.75, "data": {"name": "cells"}, "transform": [{"filter": "datum.case === 6 && datum.col === 'par'"}], "mark": {"type": "text", "align": "left", "dx": 16}, "encoding": {"text": {"field": "text"}, "x": {"datum": 0, "type": "quantitative", "scale": {"domain": [0, 1], "nice": false, "zero": false}, "axis": null}, "y": {"field": "line", "type": "quantitative", "scale": {"domain": [-0.1465, 4.156], "reverse": true, "nice": false, "zero": false}, "axis": null}}},
    {"width": 177, "height": 152.75, "layer": [
      {"data": {"values": [{}]}, "mark": {"type": "rule", "color": "#222", "strokeWidth": 1}, "encoding": {"x": {"datum": -1.5, "type": "quantitative", "scale": {"domain": [-1.844, 1.844], "nice": false, "zero": false}, "axis": null}, "x2": {"datum": 1.5}, "y": {"datum": 0, "type": "quantitative", "scale": {"domain": [-0.462, 1.335], "nice": false, "zero": false}, "axis": null}}},
      {"data": {"values": [{}]}, "mark": {"type": "rule", "color": "#222", "strokeWidth": 1}, "encoding": {"x": {"datum": 0, "type": "quantitative"}, "y": {"datum": -0.25, "type": "quantitative"}, "y2": {"datum": 1.25}}},
      {"data": {"name": "ticks"}, "mark": {"type": "rule", "color": "#999", "strokeWidth": 0.8}, "encoding": {"x": {"field": "t", "type": "quantitative"}, "y": {"datum": -0.03, "type": "quantitative"}, "y2": {"datum": 0.03}}},
      {"data": {"values": [{}]}, "mark": {"type": "rule", "color": "#999", "strokeWidth": 0.8}, "encoding": {"x": {"datum": -0.05, "type": "quantitative"}, "x2": {"datum": 0.05}, "y": {"datum": 1, "type": "quantitative"}}},
      {"data": {"name": "curves"}, "transform": [{"filter": "datum.case === 6"}], "mark": {"type": "line", "color": "black", "strokeWidth": 1.2, "interpolate": "monotone", "clip": true}, "encoding": {"x": {"field": "lam", "type": "quantitative"}, "y": {"field": "p", "type": "quantitative"}}}
    ]},
    {"width": 317, "height": 152.75, "data": {"name": "cells"}, "transform": [{"filter": "datum.case === 6 && datum.col === 'eig'"}], "mark": "text", "encoding": {"text": {"field": "text"}, "y": {"field": "line", "type": "quantitative", "scale": {"domain": [-0.1465, 4.156], "reverse": true, "nice": false, "zero": false}, "axis": null}}},
    {"width": 162, "height": 152.75, "data": {"name": "cells"}, "transform": [{"filter": "datum.case === 6 && datum.col === 'note'"}], "mark": "text", "encoding": {"text": {"field": "text"}, "y": {"field": "line", "type": "quantitative", "scale": {"domain": [-0.1465, 4.156], "reverse": true, "nice": false, "zero": false}, "axis": null}}},
    {"width": 136, "height": 152.75, "data": {"name": "cells"}, "transform": [{"filter": "datum.case === 6 && datum.col === 'stab'"}], "mark": "text", "encoding": {"text": {"field": "text"}, "y": {"field": "line", "type": "quantitative", "scale": {"domain": [-0.1465, 4.156], "reverse": true, "nice": false, "zero": false}, "axis": null}}},

    {"width": 104, "height": 152.75, "data": {"name": "cells"}, "transform": [{"filter": "datum.case === 7 && datum.col === 'case'"}], "mark": "text", "encoding": {"text": {"field": "text"}, "y": {"field": "line", "type": "quantitative", "scale": {"domain": [-0.1465, 4.156], "reverse": true, "nice": false, "zero": false}, "axis": null}}},
    {"width": 222, "height": 152.75, "data": {"name": "cells"}, "transform": [{"filter": "datum.case === 7 && datum.col === 'par'"}], "mark": {"type": "text", "align": "left", "dx": 16}, "encoding": {"text": {"field": "text"}, "x": {"datum": 0, "type": "quantitative", "scale": {"domain": [0, 1], "nice": false, "zero": false}, "axis": null}, "y": {"field": "line", "type": "quantitative", "scale": {"domain": [-0.1465, 4.156], "reverse": true, "nice": false, "zero": false}, "axis": null}}},
    {"width": 177, "height": 152.75, "layer": [
      {"data": {"values": [{}]}, "mark": {"type": "rule", "color": "#222", "strokeWidth": 1}, "encoding": {"x": {"datum": -1.5, "type": "quantitative", "scale": {"domain": [-1.844, 1.844], "nice": false, "zero": false}, "axis": null}, "x2": {"datum": 1.5}, "y": {"datum": 0, "type": "quantitative", "scale": {"domain": [-0.462, 1.335], "nice": false, "zero": false}, "axis": null}}},
      {"data": {"values": [{}]}, "mark": {"type": "rule", "color": "#222", "strokeWidth": 1}, "encoding": {"x": {"datum": 0, "type": "quantitative"}, "y": {"datum": -0.25, "type": "quantitative"}, "y2": {"datum": 1.25}}},
      {"data": {"name": "ticks"}, "mark": {"type": "rule", "color": "#999", "strokeWidth": 0.8}, "encoding": {"x": {"field": "t", "type": "quantitative"}, "y": {"datum": -0.03, "type": "quantitative"}, "y2": {"datum": 0.03}}},
      {"data": {"values": [{}]}, "mark": {"type": "rule", "color": "#999", "strokeWidth": 0.8}, "encoding": {"x": {"datum": -0.05, "type": "quantitative"}, "x2": {"datum": 0.05}, "y": {"datum": 1, "type": "quantitative"}}},
      {"data": {"name": "curves"}, "transform": [{"filter": "datum.case === 7"}], "mark": {"type": "line", "color": "black", "strokeWidth": 1.2, "interpolate": "monotone", "clip": true}, "encoding": {"x": {"field": "lam", "type": "quantitative"}, "y": {"field": "p", "type": "quantitative"}}}
    ]},
    {"width": 317, "height": 152.75, "data": {"name": "cells"}, "transform": [{"filter": "datum.case === 7 && datum.col === 'eig'"}], "mark": "text", "encoding": {"text": {"field": "text"}, "y": {"field": "line", "type": "quantitative", "scale": {"domain": [-0.1465, 4.156], "reverse": true, "nice": false, "zero": false}, "axis": null}}},
    {"width": 162, "height": 152.75, "data": {"name": "cells"}, "transform": [{"filter": "datum.case === 7 && datum.col === 'note'"}], "mark": "text", "encoding": {"text": {"field": "text"}, "y": {"field": "line", "type": "quantitative", "scale": {"domain": [-0.1465, 4.156], "reverse": true, "nice": false, "zero": false}, "axis": null}}},
    {"width": 136, "height": 152.75, "data": {"name": "cells"}, "transform": [{"filter": "datum.case === 7 && datum.col === 'stab'"}], "mark": "text", "encoding": {"text": {"field": "text"}, "y": {"field": "line", "type": "quantitative", "scale": {"domain": [-0.1465, 4.156], "reverse": true, "nice": false, "zero": false}, "axis": null}}},

    {"width": 104, "height": 152.75, "data": {"name": "cells"}, "transform": [{"filter": "datum.case === 8 && datum.col === 'case'"}], "mark": "text", "encoding": {"text": {"field": "text"}, "y": {"field": "line", "type": "quantitative", "scale": {"domain": [-0.1465, 4.156], "reverse": true, "nice": false, "zero": false}, "axis": null}}},
    {"width": 222, "height": 152.75, "data": {"name": "cells"}, "transform": [{"filter": "datum.case === 8 && datum.col === 'par'"}], "mark": {"type": "text", "align": "left", "dx": 16}, "encoding": {"text": {"field": "text"}, "x": {"datum": 0, "type": "quantitative", "scale": {"domain": [0, 1], "nice": false, "zero": false}, "axis": null}, "y": {"field": "line", "type": "quantitative", "scale": {"domain": [-0.1465, 4.156], "reverse": true, "nice": false, "zero": false}, "axis": null}}},
    {"width": 177, "height": 152.75, "layer": [
      {"data": {"values": [{}]}, "mark": {"type": "rule", "color": "#222", "strokeWidth": 1}, "encoding": {"x": {"datum": -1.5, "type": "quantitative", "scale": {"domain": [-1.844, 1.844], "nice": false, "zero": false}, "axis": null}, "x2": {"datum": 1.5}, "y": {"datum": 0, "type": "quantitative", "scale": {"domain": [-0.462, 1.335], "nice": false, "zero": false}, "axis": null}}},
      {"data": {"values": [{}]}, "mark": {"type": "rule", "color": "#222", "strokeWidth": 1}, "encoding": {"x": {"datum": 0, "type": "quantitative"}, "y": {"datum": -0.25, "type": "quantitative"}, "y2": {"datum": 1.25}}},
      {"data": {"name": "ticks"}, "mark": {"type": "rule", "color": "#999", "strokeWidth": 0.8}, "encoding": {"x": {"field": "t", "type": "quantitative"}, "y": {"datum": -0.03, "type": "quantitative"}, "y2": {"datum": 0.03}}},
      {"data": {"values": [{}]}, "mark": {"type": "rule", "color": "#999", "strokeWidth": 0.8}, "encoding": {"x": {"datum": -0.05, "type": "quantitative"}, "x2": {"datum": 0.05}, "y": {"datum": 1, "type": "quantitative"}}},
      {"data": {"name": "curves"}, "transform": [{"filter": "datum.case === 8"}], "mark": {"type": "line", "color": "black", "strokeWidth": 1.2, "interpolate": "monotone", "clip": true}, "encoding": {"x": {"field": "lam", "type": "quantitative"}, "y": {"field": "p", "type": "quantitative"}}}
    ]},
    {"width": 317, "height": 152.75, "data": {"name": "cells"}, "transform": [{"filter": "datum.case === 8 && datum.col === 'eig'"}], "mark": "text", "encoding": {"text": {"field": "text"}, "y": {"field": "line", "type": "quantitative", "scale": {"domain": [-0.1465, 4.156], "reverse": true, "nice": false, "zero": false}, "axis": null}}},
    {"width": 162, "height": 152.75, "data": {"name": "cells"}, "transform": [{"filter": "datum.case === 8 && datum.col === 'note'"}], "mark": "text", "encoding": {"text": {"field": "text"}, "y": {"field": "line", "type": "quantitative", "scale": {"domain": [-0.1465, 4.156], "reverse": true, "nice": false, "zero": false}, "axis": null}}},
    {"width": 136, "height": 152.75, "data": {"name": "cells"}, "transform": [{"filter": "datum.case === 8 && datum.col === 'stab'"}], "mark": "text", "encoding": {"text": {"field": "text"}, "y": {"field": "line", "type": "quantitative", "scale": {"domain": [-0.1465, 4.156], "reverse": true, "nice": false, "zero": false}, "axis": null}}},

    {"width": 104, "height": 152.75, "data": {"name": "cells"}, "transform": [{"filter": "datum.case === 9 && datum.col === 'case'"}], "mark": "text", "encoding": {"text": {"field": "text"}, "y": {"field": "line", "type": "quantitative", "scale": {"domain": [-0.1465, 4.156], "reverse": true, "nice": false, "zero": false}, "axis": null}}},
    {"width": 222, "height": 152.75, "data": {"name": "cells"}, "transform": [{"filter": "datum.case === 9 && datum.col === 'par'"}], "mark": {"type": "text", "align": "left", "dx": 16}, "encoding": {"text": {"field": "text"}, "x": {"datum": 0, "type": "quantitative", "scale": {"domain": [0, 1], "nice": false, "zero": false}, "axis": null}, "y": {"field": "line", "type": "quantitative", "scale": {"domain": [-0.1465, 4.156], "reverse": true, "nice": false, "zero": false}, "axis": null}}},
    {"width": 177, "height": 152.75, "layer": [
      {"data": {"values": [{}]}, "mark": {"type": "rule", "color": "#222", "strokeWidth": 1}, "encoding": {"x": {"datum": -1.5, "type": "quantitative", "scale": {"domain": [-1.844, 1.844], "nice": false, "zero": false}, "axis": null}, "x2": {"datum": 1.5}, "y": {"datum": 0, "type": "quantitative", "scale": {"domain": [-0.462, 1.335], "nice": false, "zero": false}, "axis": null}}},
      {"data": {"values": [{}]}, "mark": {"type": "rule", "color": "#222", "strokeWidth": 1}, "encoding": {"x": {"datum": 0, "type": "quantitative"}, "y": {"datum": -0.25, "type": "quantitative"}, "y2": {"datum": 1.25}}},
      {"data": {"name": "ticks"}, "mark": {"type": "rule", "color": "#999", "strokeWidth": 0.8}, "encoding": {"x": {"field": "t", "type": "quantitative"}, "y": {"datum": -0.03, "type": "quantitative"}, "y2": {"datum": 0.03}}},
      {"data": {"values": [{}]}, "mark": {"type": "rule", "color": "#999", "strokeWidth": 0.8}, "encoding": {"x": {"datum": -0.05, "type": "quantitative"}, "x2": {"datum": 0.05}, "y": {"datum": 1, "type": "quantitative"}}},
      {"data": {"name": "curves"}, "transform": [{"filter": "datum.case === 9"}], "mark": {"type": "line", "color": "black", "strokeWidth": 1.2, "interpolate": "monotone", "clip": true}, "encoding": {"x": {"field": "lam", "type": "quantitative"}, "y": {"field": "p", "type": "quantitative"}}}
    ]},
    {"width": 317, "height": 152.75, "data": {"name": "cells"}, "transform": [{"filter": "datum.case === 9 && datum.col === 'eig'"}], "mark": "text", "encoding": {"text": {"field": "text"}, "y": {"field": "line", "type": "quantitative", "scale": {"domain": [-0.1465, 4.156], "reverse": true, "nice": false, "zero": false}, "axis": null}}},
    {"width": 162, "height": 152.75, "data": {"name": "cells"}, "transform": [{"filter": "datum.case === 9 && datum.col === 'note'"}], "mark": "text", "encoding": {"text": {"field": "text"}, "y": {"field": "line", "type": "quantitative", "scale": {"domain": [-0.1465, 4.156], "reverse": true, "nice": false, "zero": false}, "axis": null}}},
    {"width": 136, "height": 152.75, "data": {"name": "cells"}, "transform": [{"filter": "datum.case === 9 && datum.col === 'stab'"}], "mark": "text", "encoding": {"text": {"field": "text"}, "y": {"field": "line", "type": "quantitative", "scale": {"domain": [-0.1465, 4.156], "reverse": true, "nice": false, "zero": false}, "axis": null}}}
  ]
}
